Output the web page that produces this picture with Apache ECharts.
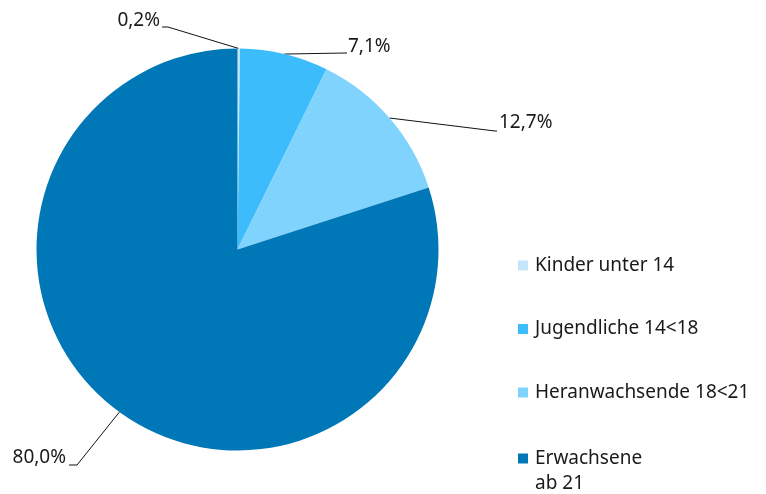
<!DOCTYPE html>
<html>
<head>
<meta charset="utf-8">
<script src="https://cdn.jsdelivr.net/npm/echarts@6/dist/echarts.min.js"></script>
<style>html,body{margin:0;padding:0;background:#fff}#c{width:766px;height:494px}</style>
</head>
<body>
<div id="c"></div>
<script>
// ---- data ----
const categories = ['Kinder unter 14', 'Jugendliche 14<18', 'Heranwachsende 18<21', 'Erwachsene\nab 21'];
const shares = [0.2, 7.1, 12.7, 80.0];
const colors = ['#c4e6fa', '#3dbcfc', '#80d3fc', '#0077b6'];

// ---- label placement styles (elbow, end, text anchor) ----
const labelStyle = [
  { elbow: [168, 27], end: [162, 27], tx: 160, ty: 20.5, align: 'right' },
  { elbow: [345, 53], end: [347, 53], tx: 348, ty: 47, align: 'left' },
  { elbow: [495, 131], end: [497, 131], tx: 499, ty: 122.5, align: 'left' },
  { elbow: [77, 465], end: [69, 465], tx: 66, ty: 458, align: 'right' }
];

const FONT = 'Noto Sans';
const chart = echarts.init(document.getElementById('c'), null, { renderer: 'canvas' });
const fmt = v => v.toFixed(1).replace('.', ',') + '%';

chart.setOption({
  animation: false,
  color: colors,
  textStyle: { fontFamily: FONT },
  legend: [
    {
      data: categories.slice(0, 3),
      orient: 'vertical',
      left: 518, top: 254.5, padding: 0,
      icon: 'rect', itemWidth: 10, itemHeight: 10, itemGap: 41.5,
      selectedMode: false,
      textStyle: { fontFamily: FONT, fontSize: 19, color: '#1a1a1a', lineHeight: 22, padding: [0, 0, 0, 2] }
    },
    {
      data: categories.slice(3),
      orient: 'vertical',
      left: 518, top: 421, padding: 0,
      icon: 'rect', itemWidth: 10, itemHeight: 10,
      selectedMode: false,
      formatter: name => '\n' + name,
      textStyle: { fontFamily: FONT, fontSize: 19, color: '#1a1a1a', lineHeight: 25, padding: [0, 0, 0, 2] }
    }
  ],
  series: [{
    type: 'pie',
    center: [237.5, 249.5],
    radius: 201,
    startAngle: 90,
    clockwise: true,
    avoidLabelOverlap: false,
    itemStyle: { borderWidth: 0 },
    label: {
      show: true,
      position: 'outside',
      fontFamily: FONT, fontSize: 19, color: '#1a1a1a',
      formatter: p => fmt(p.value)
    },
    labelLine: { show: true, length: 10, length2: 10, lineStyle: { color: '#111', width: 1 } },
    labelLayout: function (params) {
      const s = labelStyle[params.dataIndex];
      const p0 = params.labelLinePoints ? params.labelLinePoints[0] : s.elbow;
      return {
        x: s.tx, y: s.ty, align: s.align, verticalAlign: 'middle',
        labelLinePoints: [p0, s.elbow, s.end]
      };
    },
    data: categories.map((c, i) => ({ name: c, value: shares[i] }))
  }]
});
</script>
</body>
</html>
